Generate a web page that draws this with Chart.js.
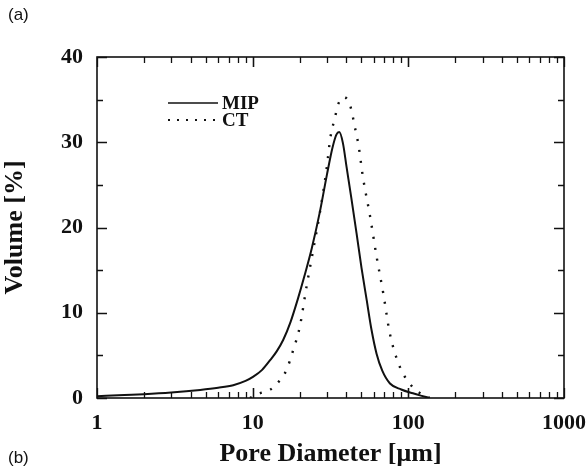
<!DOCTYPE html>
<html>
<head>
<meta charset="utf-8">
<script src="https://cdn.jsdelivr.net/npm/chart.js@4/dist/chart.umd.min.js"></script>
<style>
  html, body { margin: 0; padding: 0; background: #fff; }
  #wrap { position: relative; width: 588px; height: 470px; }
  canvas { position: absolute; left: 0; top: 0; }
  .panel { position: absolute; font-family: "Liberation Sans", Arial, sans-serif; font-size: 17px; color: #111; }
</style>
</head>
<body>
<div id="wrap">
  <canvas id="c" width="588" height="470"></canvas>
  <div class="panel" style="left:8px; top:5px;">(a)</div>
  <div class="panel" style="left:8px; top:448px;">(b)</div>
</div>
<script>
// Series
const seriesNames = ["MIP", "CT"];
const mipDiameter = [1, 1.5, 2, 3, 4.6, 6, 7.5, 9, 10.1, 11.5, 12.9, 14.3, 15.7, 17.5, 19.5, 21.5, 24, 27, 30, 32.5, 34.5, 36, 38, 40.1, 43, 46.5, 50, 54, 58, 62.5, 68, 76.2, 90, 107, 122, 137];
const mipVolume   = [0.2, 0.35, 0.45, 0.65, 0.95, 1.2, 1.5, 2.0, 2.5, 3.3, 4.4, 5.5, 6.8, 8.9, 11.6, 14.3, 17.6, 21.8, 26.2, 29.3, 30.9, 31.2, 29.9, 27.1, 23.5, 19.3, 15.3, 11.5, 8.0, 5.2, 3.2, 1.7, 1.0, 0.55, 0.25, 0];
const ctDiameter  = [9.6, 11.1, 12.9, 15, 16.5, 18.2, 20.1, 22.2, 24.5, 27, 29.9, 31.6, 33.9, 35.2, 38.6, 42.3, 45.3, 48, 51, 56.8, 62.5, 69, 76, 88, 102, 119, 137];
const ctVolume    = [0, 0.55, 0.94, 2.1, 3.3, 5.6, 8.4, 13.1, 17.4, 21.7, 27.0, 30.6, 33.0, 34.3, 35.3, 34.3, 31.8, 29.5, 26.0, 21.3, 16.6, 12.3, 7.6, 3.7, 1.7, 0.55, 0];
const xTickLabels = [1, 10, 100, 1000];
const yTickLabels = [0, 10, 20, 30, 40];
const xTitle = "Pore Diameter [μm]";
const yTitle = "Volume [%]";

const toPoints = (xs, ys) => xs.map((x, i) => ({ x: x, y: ys[i] }));
const serif = "'Liberation Serif', 'Times New Roman', serif";
const ink = "#111";

// Box + inward ticks + legend drawn through the chart's scales
const framePlugin = {
  id: "frame",
  afterDraw(chart) {
    const ctx = chart.ctx;
    const a = chart.chartArea;
    const xs = chart.scales.x, ys = chart.scales.y;
    ctx.save();
    ctx.strokeStyle = ink;
    ctx.lineWidth = 1.3;
    for (let dec = 1; dec < 1000; dec *= 10) {
      for (let k = 1; k <= 10; k++) {
        const v = dec * k;
        if (v > 1000) continue;
        const isMajor = xTickLabels.includes(v);
        const len = isMajor ? 10 : 6;
        const px = Math.round(xs.getPixelForValue(v)) + 0.5;
        ctx.beginPath();
        ctx.moveTo(px, a.bottom); ctx.lineTo(px, a.bottom - len);
        ctx.moveTo(px, a.top); ctx.lineTo(px, a.top + len);
        ctx.stroke();
      }
    }
    for (let v = 0; v <= 40; v += 5) {
      const isMajor = yTickLabels.includes(v);
      const len = isMajor ? 10 : 6;
      const py = Math.round(ys.getPixelForValue(v)) + 0.5;
      ctx.beginPath();
      ctx.moveTo(a.left, py); ctx.lineTo(a.left + len, py);
      ctx.moveTo(a.right, py); ctx.lineTo(a.right - len, py);
      ctx.stroke();
    }
    ctx.lineWidth = 1.6;
    ctx.strokeRect(a.left, a.top, a.right - a.left, a.bottom - a.top);
    // legend
    const lx0 = 168, lx1 = 218, tx = 222;
    const rows = [{ y: 103, dash: [] }, { y: 120, dash: [2, 7] }];
    ctx.font = "bold 19px " + serif;
    ctx.fillStyle = ink;
    ctx.textBaseline = "middle";
    rows.forEach((r, i) => {
      ctx.setLineDash(r.dash);
      ctx.lineWidth = i === 0 ? 1.6 : 2.2;
      ctx.beginPath();
      ctx.moveTo(lx0, r.y); ctx.lineTo(lx1, r.y);
      ctx.stroke();
      ctx.setLineDash([]);
      ctx.fillText(seriesNames[i], tx, r.y + 1);
    });
    ctx.restore();
  }
};

new Chart(document.getElementById("c"), {
  type: "line",
  data: {
    datasets: [
      {
        label: seriesNames[0],
        data: toPoints(mipDiameter, mipVolume),
        borderColor: ink,
        borderWidth: 2,
        pointRadius: 0,
        fill: false,
        cubicInterpolationMode: "monotone"
      },
      {
        label: seriesNames[1],
        data: toPoints(ctDiameter, ctVolume),
        borderColor: ink,
        borderWidth: 2.4,
        borderDash: [2, 9],
        pointRadius: 0,
        fill: false,
        cubicInterpolationMode: "monotone"
      }
    ]
  },
  options: {
    responsive: false,
    animation: false,
    layout: { padding: { left: 0, right: 24, top: 57, bottom: 0 } },
    plugins: { legend: { display: false }, tooltip: { enabled: false } },
    scales: {
      x: {
        type: "logarithmic",
        min: 1,
        max: 1000,
        afterFit(s) { s.height = 72; s.paddingLeft = 0; s.paddingRight = 0; },
        grid: { display: false, drawTicks: false },
        border: { display: false },
        afterBuildTicks(s) { s.ticks = xTickLabels.map(v => ({ value: v })); },
        ticks: {
          autoSkip: false,
          maxRotation: 0,
          padding: 12,
          color: ink,
          font: { family: serif, size: 22, weight: "bold" },
          callback: (v) => String(v)
        },
        title: {
          display: true,
          text: xTitle,
          color: ink,
          font: { family: serif, size: 26, weight: "bold" },
          padding: { top: 0, bottom: 0 }
        }
      },
      y: {
        min: 0,
        max: 40,
        afterFit(s) { s.width = 97; s.paddingTop = 0; s.paddingBottom = 0; },
        grid: { display: false, drawTicks: false },
        border: { display: false },
        afterBuildTicks(s) { s.ticks = yTickLabels.map(v => ({ value: v })); },
        ticks: {
          padding: 14,
          color: ink,
          font: { family: serif, size: 22, weight: "bold" }
        },
        title: {
          display: true,
          text: yTitle,
          color: ink,
          font: { family: serif, size: 26, weight: "bold" },
          padding: { top: 0, bottom: 0 }
        }
      }
    }
  },
  plugins: [framePlugin]
});
</script>
</body>
</html>
